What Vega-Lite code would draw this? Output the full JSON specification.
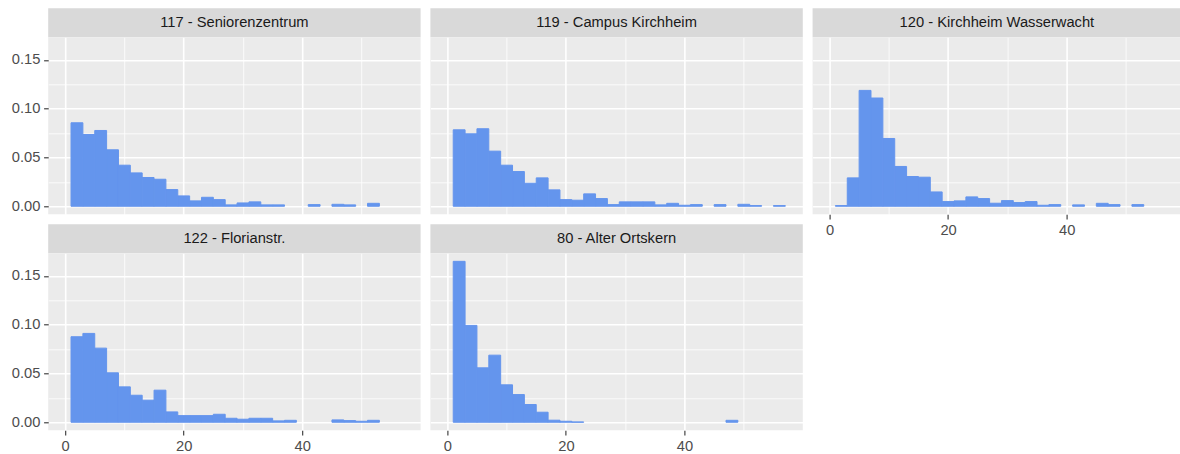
{
  "$schema": "https://vega.github.io/schema/vega-lite/v6.json",
  "autosize": {"type": "pad"},
  "padding": {"left": 11.2, "top": 8.3, "right": 0, "bottom": 0},
  "background": "#ffffff",
  "config": {
    "font": "Liberation Sans",
    "view": {"fill": "#ebebeb", "stroke": null},
    "axis": {"domain": false, "gridColor": "#ffffff", "gridWidth": 1.6, "tickColor": "#333333", "tickWidth": 1.1, "tickSize": 4.6, "labelFontSize": 14.7, "labelColor": "#4d4d4d", "labelPadding": 3.7, "labelFont": "Liberation Sans"},
    "text": {"fontSize": 14.7, "color": "#1a1a1a", "font": "Liberation Sans", "baseline": "middle", "align": "center"},
    "bar": {"color": "#6495ED", "stroke": "#6495ED", "strokeWidth": 1, "opacity": 1}
  },
  "datasets": {
    "strips": [
      {"station": "117 - Seniorenzentrum"},
      {"station": "119 - Campus Kirchheim"},
      {"station": "120 - Kirchheim Wasserwacht"},
      {"station": "122 - Florianstr."},
      {"station": "80 - Alter Ortskern"}
    ],
    "hist": [
      {"station": "117 - Seniorenzentrum", "x0": 1, "x1": 3, "density": 0.0856},
      {"station": "117 - Seniorenzentrum", "x0": 3, "x1": 5, "density": 0.0736},
      {"station": "117 - Seniorenzentrum", "x0": 5, "x1": 7, "density": 0.0777},
      {"station": "117 - Seniorenzentrum", "x0": 7, "x1": 9, "density": 0.0579},
      {"station": "117 - Seniorenzentrum", "x0": 9, "x1": 11, "density": 0.0421},
      {"station": "117 - Seniorenzentrum", "x0": 11, "x1": 13, "density": 0.0342},
      {"station": "117 - Seniorenzentrum", "x0": 13, "x1": 15, "density": 0.0295},
      {"station": "117 - Seniorenzentrum", "x0": 15, "x1": 17, "density": 0.0277},
      {"station": "117 - Seniorenzentrum", "x0": 17, "x1": 19, "density": 0.0171},
      {"station": "117 - Seniorenzentrum", "x0": 19, "x1": 21, "density": 0.0106},
      {"station": "117 - Seniorenzentrum", "x0": 21, "x1": 23, "density": 0.0055},
      {"station": "117 - Seniorenzentrum", "x0": 23, "x1": 25, "density": 0.0092},
      {"station": "117 - Seniorenzentrum", "x0": 25, "x1": 27, "density": 0.0068},
      {"station": "117 - Seniorenzentrum", "x0": 27, "x1": 29, "density": 0.0014},
      {"station": "117 - Seniorenzentrum", "x0": 29, "x1": 31, "density": 0.0034},
      {"station": "117 - Seniorenzentrum", "x0": 31, "x1": 33, "density": 0.0045},
      {"station": "117 - Seniorenzentrum", "x0": 33, "x1": 35, "density": 0.0014},
      {"station": "117 - Seniorenzentrum", "x0": 35, "x1": 37, "density": 0.0014},
      {"station": "117 - Seniorenzentrum", "x0": 41, "x1": 43, "density": 0.0017},
      {"station": "117 - Seniorenzentrum", "x0": 45, "x1": 47, "density": 0.002},
      {"station": "117 - Seniorenzentrum", "x0": 47, "x1": 49, "density": 0.0014},
      {"station": "117 - Seniorenzentrum", "x0": 51, "x1": 53, "density": 0.003},

      {"station": "119 - Campus Kirchheim", "x0": 1, "x1": 3, "density": 0.0784},
      {"station": "119 - Campus Kirchheim", "x0": 3, "x1": 5, "density": 0.0743},
      {"station": "119 - Campus Kirchheim", "x0": 5, "x1": 7, "density": 0.0795},
      {"station": "119 - Campus Kirchheim", "x0": 7, "x1": 9, "density": 0.0565},
      {"station": "119 - Campus Kirchheim", "x0": 9, "x1": 11, "density": 0.0421},
      {"station": "119 - Campus Kirchheim", "x0": 11, "x1": 13, "density": 0.0356},
      {"station": "119 - Campus Kirchheim", "x0": 13, "x1": 15, "density": 0.0236},
      {"station": "119 - Campus Kirchheim", "x0": 15, "x1": 17, "density": 0.0291},
      {"station": "119 - Campus Kirchheim", "x0": 17, "x1": 19, "density": 0.0168},
      {"station": "119 - Campus Kirchheim", "x0": 19, "x1": 21, "density": 0.0068},
      {"station": "119 - Campus Kirchheim", "x0": 21, "x1": 23, "density": 0.0062},
      {"station": "119 - Campus Kirchheim", "x0": 23, "x1": 25, "density": 0.0127},
      {"station": "119 - Campus Kirchheim", "x0": 25, "x1": 27, "density": 0.0079},
      {"station": "119 - Campus Kirchheim", "x0": 27, "x1": 29, "density": 0.0017},
      {"station": "119 - Campus Kirchheim", "x0": 29, "x1": 31, "density": 0.0045},
      {"station": "119 - Campus Kirchheim", "x0": 31, "x1": 33, "density": 0.0045},
      {"station": "119 - Campus Kirchheim", "x0": 33, "x1": 35, "density": 0.0045},
      {"station": "119 - Campus Kirchheim", "x0": 35, "x1": 37, "density": 0.0014},
      {"station": "119 - Campus Kirchheim", "x0": 37, "x1": 39, "density": 0.003},
      {"station": "119 - Campus Kirchheim", "x0": 39, "x1": 41, "density": 0.001},
      {"station": "119 - Campus Kirchheim", "x0": 41, "x1": 43, "density": 0.0017},
      {"station": "119 - Campus Kirchheim", "x0": 45, "x1": 47, "density": 0.0017},
      {"station": "119 - Campus Kirchheim", "x0": 49, "x1": 51, "density": 0.002},
      {"station": "119 - Campus Kirchheim", "x0": 51, "x1": 53, "density": 0.0007},
      {"station": "119 - Campus Kirchheim", "x0": 55, "x1": 57, "density": 0.0007},

      {"station": "120 - Kirchheim Wasserwacht", "x0": 1, "x1": 3, "density": 0.0007},
      {"station": "120 - Kirchheim Wasserwacht", "x0": 3, "x1": 5, "density": 0.0291},
      {"station": "120 - Kirchheim Wasserwacht", "x0": 5, "x1": 7, "density": 0.1188},
      {"station": "120 - Kirchheim Wasserwacht", "x0": 7, "x1": 9, "density": 0.111},
      {"station": "120 - Kirchheim Wasserwacht", "x0": 9, "x1": 11, "density": 0.0695},
      {"station": "120 - Kirchheim Wasserwacht", "x0": 11, "x1": 13, "density": 0.0408},
      {"station": "120 - Kirchheim Wasserwacht", "x0": 13, "x1": 15, "density": 0.0305},
      {"station": "120 - Kirchheim Wasserwacht", "x0": 15, "x1": 17, "density": 0.0298},
      {"station": "120 - Kirchheim Wasserwacht", "x0": 17, "x1": 19, "density": 0.0147},
      {"station": "120 - Kirchheim Wasserwacht", "x0": 19, "x1": 21, "density": 0.0048},
      {"station": "120 - Kirchheim Wasserwacht", "x0": 21, "x1": 23, "density": 0.0055},
      {"station": "120 - Kirchheim Wasserwacht", "x0": 23, "x1": 25, "density": 0.0096},
      {"station": "120 - Kirchheim Wasserwacht", "x0": 25, "x1": 27, "density": 0.0079},
      {"station": "120 - Kirchheim Wasserwacht", "x0": 27, "x1": 29, "density": 0.0031},
      {"station": "120 - Kirchheim Wasserwacht", "x0": 29, "x1": 31, "density": 0.0058},
      {"station": "120 - Kirchheim Wasserwacht", "x0": 31, "x1": 33, "density": 0.0038},
      {"station": "120 - Kirchheim Wasserwacht", "x0": 33, "x1": 35, "density": 0.0048},
      {"station": "120 - Kirchheim Wasserwacht", "x0": 35, "x1": 37, "density": 0.001},
      {"station": "120 - Kirchheim Wasserwacht", "x0": 37, "x1": 39, "density": 0.0017},
      {"station": "120 - Kirchheim Wasserwacht", "x0": 41, "x1": 43, "density": 0.0014},
      {"station": "120 - Kirchheim Wasserwacht", "x0": 45, "x1": 47, "density": 0.003},
      {"station": "120 - Kirchheim Wasserwacht", "x0": 47, "x1": 49, "density": 0.0017},
      {"station": "120 - Kirchheim Wasserwacht", "x0": 51, "x1": 53, "density": 0.0017},

      {"station": "122 - Florianstr.", "x0": 1, "x1": 3, "density": 0.0877},
      {"station": "122 - Florianstr.", "x0": 3, "x1": 5, "density": 0.0911},
      {"station": "122 - Florianstr.", "x0": 5, "x1": 7, "density": 0.076},
      {"station": "122 - Florianstr.", "x0": 7, "x1": 9, "density": 0.0507},
      {"station": "122 - Florianstr.", "x0": 9, "x1": 11, "density": 0.0363},
      {"station": "122 - Florianstr.", "x0": 11, "x1": 13, "density": 0.0277},
      {"station": "122 - Florianstr.", "x0": 13, "x1": 15, "density": 0.0226},
      {"station": "122 - Florianstr.", "x0": 15, "x1": 17, "density": 0.0329},
      {"station": "122 - Florianstr.", "x0": 17, "x1": 19, "density": 0.0106},
      {"station": "122 - Florianstr.", "x0": 19, "x1": 21, "density": 0.0068},
      {"station": "122 - Florianstr.", "x0": 21, "x1": 23, "density": 0.0068},
      {"station": "122 - Florianstr.", "x0": 23, "x1": 25, "density": 0.0068},
      {"station": "122 - Florianstr.", "x0": 25, "x1": 27, "density": 0.0082},
      {"station": "122 - Florianstr.", "x0": 27, "x1": 29, "density": 0.0041},
      {"station": "122 - Florianstr.", "x0": 29, "x1": 31, "density": 0.0031},
      {"station": "122 - Florianstr.", "x0": 31, "x1": 33, "density": 0.0041},
      {"station": "122 - Florianstr.", "x0": 33, "x1": 35, "density": 0.0041},
      {"station": "122 - Florianstr.", "x0": 35, "x1": 37, "density": 0.0014},
      {"station": "122 - Florianstr.", "x0": 37, "x1": 39, "density": 0.002},
      {"station": "122 - Florianstr.", "x0": 45, "x1": 47, "density": 0.0024},
      {"station": "122 - Florianstr.", "x0": 47, "x1": 49, "density": 0.0017},
      {"station": "122 - Florianstr.", "x0": 49, "x1": 51, "density": 0.001},
      {"station": "122 - Florianstr.", "x0": 51, "x1": 53, "density": 0.002},

      {"station": "80 - Alter Ortskern", "x0": 1, "x1": 3, "density": 0.165},
      {"station": "80 - Alter Ortskern", "x0": 3, "x1": 5, "density": 0.0993},
      {"station": "80 - Alter Ortskern", "x0": 5, "x1": 7, "density": 0.0558},
      {"station": "80 - Alter Ortskern", "x0": 7, "x1": 9, "density": 0.0688},
      {"station": "80 - Alter Ortskern", "x0": 9, "x1": 11, "density": 0.0384},
      {"station": "80 - Alter Ortskern", "x0": 11, "x1": 13, "density": 0.0284},
      {"station": "80 - Alter Ortskern", "x0": 13, "x1": 15, "density": 0.0182},
      {"station": "80 - Alter Ortskern", "x0": 15, "x1": 17, "density": 0.0103},
      {"station": "80 - Alter Ortskern", "x0": 17, "x1": 19, "density": 0.0021},
      {"station": "80 - Alter Ortskern", "x0": 19, "x1": 21, "density": 0.001},
      {"station": "80 - Alter Ortskern", "x0": 21, "x1": 23, "density": 0.0003},
      {"station": "80 - Alter Ortskern", "x0": 47, "x1": 49, "density": 0.002}
    ]
  },
  "spacing": 9.2,
  "hconcat": [
    {
      "spacing": 0,
      "vconcat": [
        {
          "width": 372.4, "height": 29,
          "view": {"fill": "#d9d9d9", "stroke": null},
          "data": {"name": "strips"},
          "transform": [{"filter": "datum.station === '117 - Seniorenzentrum'"}],
          "mark": "text",
          "encoding": {"text": {"field": "station"}}
        },
        {
          "width": 372.4, "height": 177,
          "data": {"name": "hist"},
          "transform": [{"filter": "datum.station === '117 - Seniorenzentrum'"}],
          "layer": [
            {
              "mark": {"type": "bar", "opacity": 1},
              "encoding": {
                "x": {"field": "x0", "type": "quantitative", "scale": {"domain": [-2.85, 59.95], "nice": false, "zero": false}, "axis": {"title": null, "values": [0, 20, 40], "grid": true, "labels": false, "tickOpacity": 0, "tickSize": 9.6}},
                "x2": {"field": "x1"},
                "y": {"field": "density", "type": "quantitative", "scale": {"domain": [-0.00825, 0.17325], "nice": false, "zero": false}, "axis": {"title": null, "values": [0, 0.05, 0.1, 0.15], "format": ".2f", "grid": true}},
                "y2": {"datum": 0}
              }
            },
            {
              "mark": {"type": "point", "opacity": 0},
              "encoding": {
                "x": {"field": "x0", "type": "quantitative", "axis": {"title": null, "orient": "top", "values": [10, 30, 50], "grid": true, "gridWidth": 0.8, "labels": false, "ticks": false}},
                "y": {"field": "density", "type": "quantitative", "axis": {"title": null, "orient": "right", "values": [0.025, 0.075, 0.125], "grid": true, "gridWidth": 0.8, "labels": false, "ticks": false}}
              }
            }
          ],
          "resolve": {"axis": {"x": "independent", "y": "independent"}}
        },
        {
          "width": 372.4, "height": 29,
          "view": {"fill": "#d9d9d9", "stroke": null},
          "data": {"name": "strips"},
          "transform": [{"filter": "datum.station === '122 - Florianstr.'"}],
          "mark": "text",
          "encoding": {"text": {"field": "station"}}
        },
        {
          "width": 372.4, "height": 177,
          "data": {"name": "hist"},
          "transform": [{"filter": "datum.station === '122 - Florianstr.'"}],
          "layer": [
            {
              "mark": {"type": "bar", "opacity": 1},
              "encoding": {
                "x": {"field": "x0", "type": "quantitative", "scale": {"domain": [-2.85, 59.95], "nice": false, "zero": false}, "axis": {"title": null, "values": [0, 20, 40], "grid": true}},
                "x2": {"field": "x1"},
                "y": {"field": "density", "type": "quantitative", "scale": {"domain": [-0.00825, 0.17325], "nice": false, "zero": false}, "axis": {"title": null, "values": [0, 0.05, 0.1, 0.15], "format": ".2f", "grid": true}},
                "y2": {"datum": 0}
              }
            },
            {
              "mark": {"type": "point", "opacity": 0},
              "encoding": {
                "x": {"field": "x0", "type": "quantitative", "axis": {"title": null, "orient": "top", "values": [10, 30, 50], "grid": true, "gridWidth": 0.8, "labels": false, "ticks": false}},
                "y": {"field": "density", "type": "quantitative", "axis": {"title": null, "orient": "right", "values": [0.025, 0.075, 0.125], "grid": true, "gridWidth": 0.8, "labels": false, "ticks": false}}
              }
            }
          ],
          "resolve": {"axis": {"x": "independent", "y": "independent"}}
        }
      ]
    },
    {
      "spacing": 0,
      "vconcat": [
        {
          "width": 372.4, "height": 29,
          "view": {"fill": "#d9d9d9", "stroke": null},
          "data": {"name": "strips"},
          "transform": [{"filter": "datum.station === '119 - Campus Kirchheim'"}],
          "mark": "text",
          "encoding": {"text": {"field": "station"}}
        },
        {
          "width": 372.4, "height": 177,
          "data": {"name": "hist"},
          "transform": [{"filter": "datum.station === '119 - Campus Kirchheim'"}],
          "layer": [
            {
              "mark": {"type": "bar", "opacity": 1},
              "encoding": {
                "x": {"field": "x0", "type": "quantitative", "scale": {"domain": [-2.85, 59.95], "nice": false, "zero": false}, "axis": {"title": null, "values": [0, 20, 40], "grid": true, "labels": false, "tickOpacity": 0, "tickSize": 9.6}},
                "x2": {"field": "x1"},
                "y": {"field": "density", "type": "quantitative", "scale": {"domain": [-0.00825, 0.17325], "nice": false, "zero": false}, "axis": {"title": null, "values": [0, 0.05, 0.1, 0.15], "grid": true, "labels": false, "ticks": false}},
                "y2": {"datum": 0}
              }
            },
            {
              "mark": {"type": "point", "opacity": 0},
              "encoding": {
                "x": {"field": "x0", "type": "quantitative", "axis": {"title": null, "orient": "top", "values": [10, 30, 50], "grid": true, "gridWidth": 0.8, "labels": false, "ticks": false}},
                "y": {"field": "density", "type": "quantitative", "axis": {"title": null, "orient": "right", "values": [0.025, 0.075, 0.125], "grid": true, "gridWidth": 0.8, "labels": false, "ticks": false}}
              }
            }
          ],
          "resolve": {"axis": {"x": "independent", "y": "independent"}}
        },
        {
          "width": 372.4, "height": 29,
          "view": {"fill": "#d9d9d9", "stroke": null},
          "data": {"name": "strips"},
          "transform": [{"filter": "datum.station === '80 - Alter Ortskern'"}],
          "mark": "text",
          "encoding": {"text": {"field": "station"}}
        },
        {
          "width": 372.4, "height": 177,
          "data": {"name": "hist"},
          "transform": [{"filter": "datum.station === '80 - Alter Ortskern'"}],
          "layer": [
            {
              "mark": {"type": "bar", "opacity": 1},
              "encoding": {
                "x": {"field": "x0", "type": "quantitative", "scale": {"domain": [-2.85, 59.95], "nice": false, "zero": false}, "axis": {"title": null, "values": [0, 20, 40], "grid": true}},
                "x2": {"field": "x1"},
                "y": {"field": "density", "type": "quantitative", "scale": {"domain": [-0.00825, 0.17325], "nice": false, "zero": false}, "axis": {"title": null, "values": [0, 0.05, 0.1, 0.15], "grid": true, "labels": false, "ticks": false}},
                "y2": {"datum": 0}
              }
            },
            {
              "mark": {"type": "point", "opacity": 0},
              "encoding": {
                "x": {"field": "x0", "type": "quantitative", "axis": {"title": null, "orient": "top", "values": [10, 30, 50], "grid": true, "gridWidth": 0.8, "labels": false, "ticks": false}},
                "y": {"field": "density", "type": "quantitative", "axis": {"title": null, "orient": "right", "values": [0.025, 0.075, 0.125], "grid": true, "gridWidth": 0.8, "labels": false, "ticks": false}}
              }
            }
          ],
          "resolve": {"axis": {"x": "independent", "y": "independent"}}
        }
      ]
    },
    {
      "spacing": 0,
      "vconcat": [
        {
          "width": 368.6, "height": 29,
          "view": {"fill": "#d9d9d9", "stroke": null},
          "data": {"name": "strips"},
          "transform": [{"filter": "datum.station === '120 - Kirchheim Wasserwacht'"}],
          "mark": "text",
          "encoding": {"text": {"field": "station"}}
        },
        {
          "width": 368.6, "height": 177,
          "data": {"name": "hist"},
          "transform": [{"filter": "datum.station === '120 - Kirchheim Wasserwacht'"}],
          "layer": [
            {
              "mark": {"type": "bar", "opacity": 1},
              "encoding": {
                "x": {"field": "x0", "type": "quantitative", "scale": {"domain": [-2.85, 59.31], "nice": false, "zero": false}, "axis": {"title": null, "values": [0, 20, 40], "grid": true}},
                "x2": {"field": "x1"},
                "y": {"field": "density", "type": "quantitative", "scale": {"domain": [-0.00825, 0.17325], "nice": false, "zero": false}, "axis": {"title": null, "values": [0, 0.05, 0.1, 0.15], "grid": true, "labels": false, "ticks": false}},
                "y2": {"datum": 0}
              }
            },
            {
              "mark": {"type": "point", "opacity": 0},
              "encoding": {
                "x": {"field": "x0", "type": "quantitative", "axis": {"title": null, "orient": "top", "values": [10, 30, 50], "grid": true, "gridWidth": 0.8, "labels": false, "ticks": false}},
                "y": {"field": "density", "type": "quantitative", "axis": {"title": null, "orient": "right", "values": [0.025, 0.075, 0.125], "grid": true, "gridWidth": 0.8, "labels": false, "ticks": false}}
              }
            }
          ],
          "resolve": {"axis": {"x": "independent", "y": "independent"}}
        }
      ]
    }
  ]
}
